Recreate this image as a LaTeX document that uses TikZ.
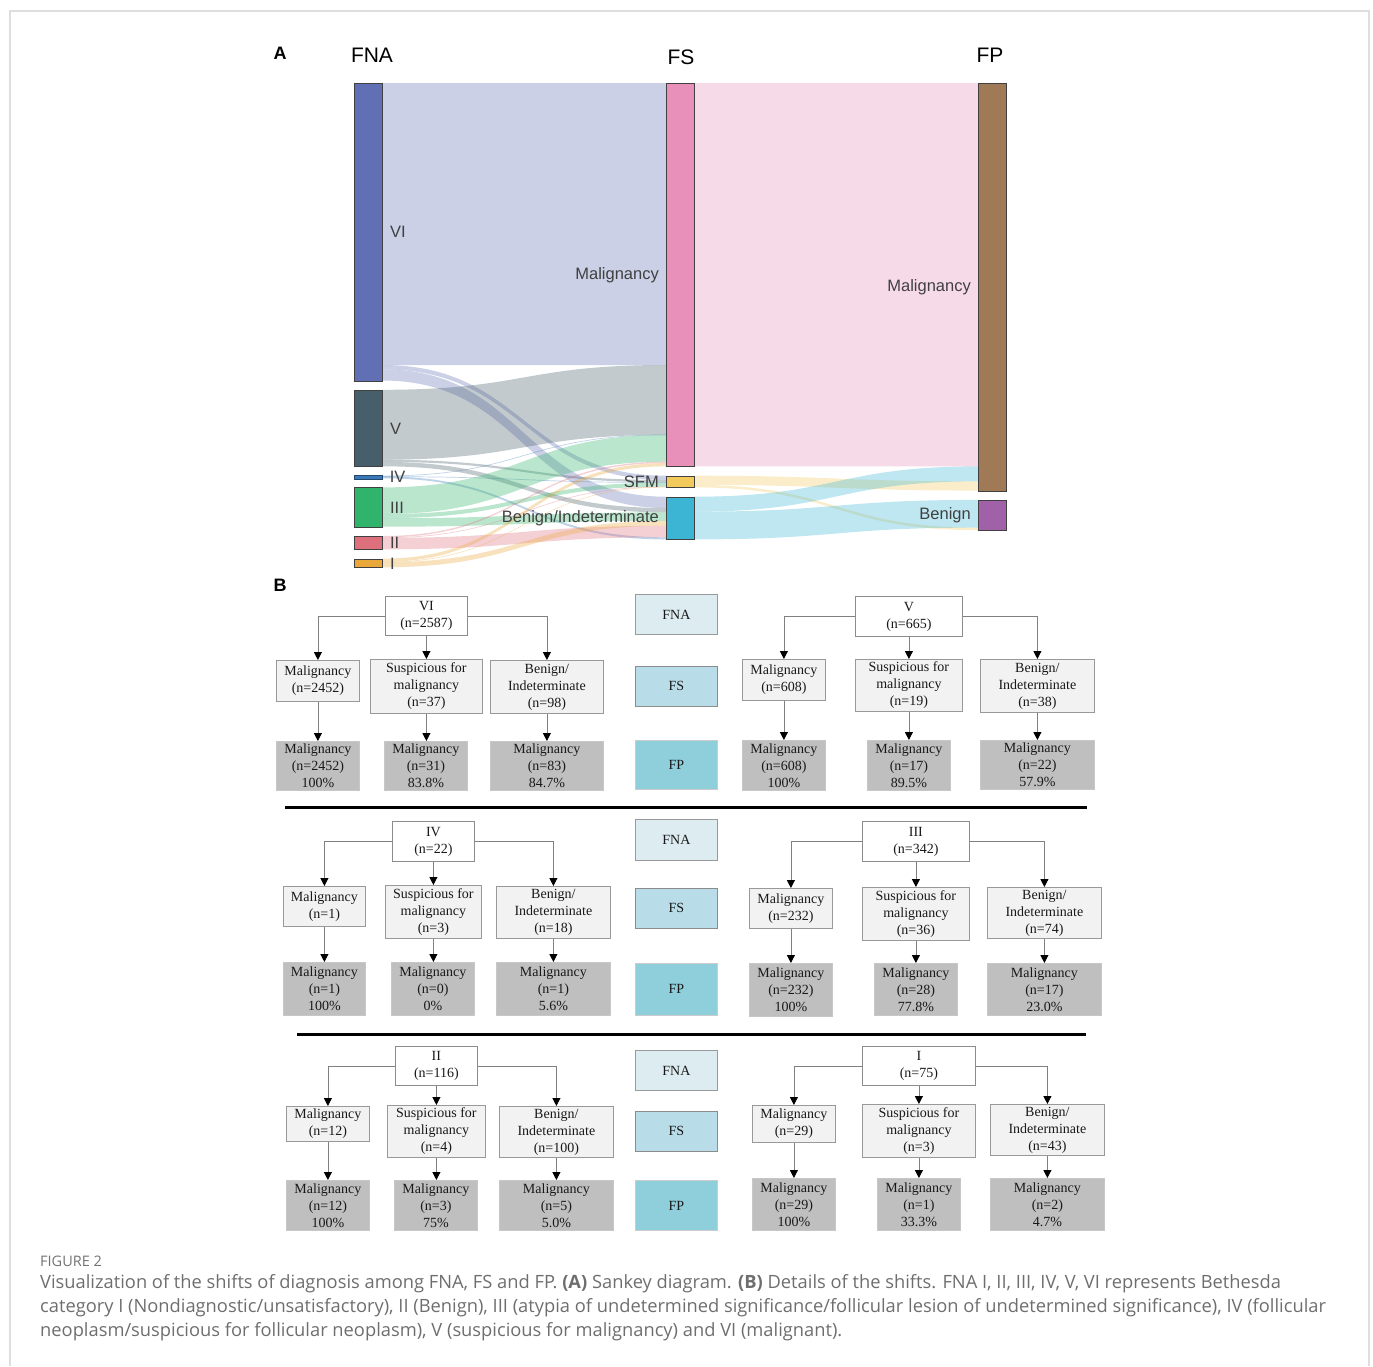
\documentclass[tikz,border=0pt]{standalone}
\usepackage{fontspec}
\setmainfont{Liberation Serif}
\newfontfamily\arialf{Liberation Sans}
\newfontfamily\capf{Open Sans}
\usetikzlibrary{arrows.meta}
\definecolor{cVI}{HTML}{6170B4}
\definecolor{cV}{HTML}{475E6B}
\definecolor{cIV}{HTML}{3A78B8}
\definecolor{cIII}{HTML}{30B36A}
\definecolor{cII}{HTML}{DE707E}
\definecolor{cI}{HTML}{EBA83A}
\definecolor{cFM}{HTML}{E890BA}
\definecolor{cFS}{HTML}{F2C95B}
\definecolor{cFB}{HTML}{3CB5D5}
\definecolor{cPM}{HTML}{A07956}
\definecolor{cPB}{HTML}{A061A8}
\definecolor{lblue1}{HTML}{DCECF1}
\definecolor{lblue2}{HTML}{B9DDE8}
\definecolor{lblue3}{HTML}{8FCFDC}
\definecolor{fsgray}{HTML}{F2F2F2}
\definecolor{fpgray}{HTML}{BFBFBF}
\definecolor{capgray}{HTML}{6E6E6E}
\newcommand{\sflow}[7]{\fill[#1, fill opacity=0.33] (#2,#3) .. controls ({(#2+#5)/2},#3) and ({(#2+#5)/2},#6) .. (#5,#6) -- (#5,#7) .. controls ({(#2+#5)/2},#7) and ({(#2+#5)/2},#4) .. (#2,#4) -- cycle;}
\newcommand{\snode}[6]{\node[sk, fill=#2, minimum width={(#5-#3)*1pt}, minimum height={(#6-#4)*1pt}] (#1) at (#3,#4) {};}
\newcommand{\bx}[7]{\node[#2, minimum width={(#5-#3)*1pt}, minimum height={(#6-#4)*1pt}] (#1) at (#3,#4) {#7};}
\newcommand{\conns}[1]{%
\draw[conn] (#1T.west) -| (#1M.north);
\draw[conn] (#1T.south) -- (#1T.south |- #1S.north);
\draw[conn] (#1T.east) -| (#1B.north);
\draw[conn] (#1M.south) -- (#1M.south |- #1FM.north);
\draw[conn] (#1S.south) -- (#1S.south |- #1FS.north);
\draw[conn] (#1B.south) -- (#1B.south |- #1FB.north);}
\tikzset{
 sk/.style={draw=black!75, line width=0.9pt, inner sep=0pt, anchor=north west},
 sklab/.style={font=\arialf\fontsize{16.5}{18}\selectfont, text=black!75, inner sep=0pt},
 coltitle/.style={font=\arialf\fontsize{21}{24}\selectfont, text=black, inner sep=0pt},
 panel/.style={font=\arialf\bfseries\fontsize{18}{20}\selectfont, text=black, inner sep=0pt},
 bbase/.style={anchor=north west, inner sep=0pt, align=center, font=\fontsize{14}{17}\selectfont, text=black!90, line width=0.8pt},
 topbox/.style={bbase, draw=black!45, fill=white},
 fsbox/.style={bbase, draw=black!40, fill=fsgray},
 fpbox/.style={bbase, draw=black!22, fill=fpgray},
 keyA/.style={bbase, draw=black!40, fill=lblue1},
 keyB/.style={bbase, draw=black!45, fill=lblue2},
 keyC/.style={bbase, draw=black!20, fill=lblue3},
 conn/.style={draw=black!50, line width=0.8pt, -{Triangle[width=8pt,length=8pt,color=black]}},
 sepline/.style={line width=3pt, black},
 captext/.style={anchor=west, inner sep=0pt, font=\capf\fontsize{18.3}{20}\selectfont, text=capgray},
}
\begin{document}
\begin{tikzpicture}[x=1pt,y=-1pt]
\useasboundingbox (0,0) rectangle (1373,1366);
\draw[draw=black!13, line width=1.5pt] (10,1366) -- (10,11) -- (1369,11) -- (1369,1366);

% ---------- Panel A: Sankey ----------
\node[panel] (lblA) at (280,53) {A};
\node[coltitle] (tFNA) at (372,55) {FNA};
\node[coltitle] (tFS) at (681,57) {FS};
\node[coltitle] (tFP) at (990,55) {FP};

% FNA -> FS flows
\sflow{cVI}{382}{83}{365.0}{666}{83}{365.0}
\sflow{cVI}{382}{365.0}{369.3}{666}{475.7}{480.0}
\sflow{cVI}{382}{369.3}{380.5}{666}{496.7}{508.0}
\sflow{cV}{382}{389.8}{459.7}{666}{365.0}{434.9}
\sflow{cV}{382}{459.7}{461.9}{666}{480.0}{482.2}
\sflow{cV}{382}{461.9}{466.3}{666}{508.0}{512.4}
\sflow{cIV}{382}{475.6}{476.3}{666}{434.6}{435.3}
\sflow{cIV}{382}{476.3}{477.0}{666}{482.2}{482.9}
\sflow{cIV}{382}{476.4}{478.3}{666}{537.3}{539.4}
\sflow{cIII}{382}{487.4}{514.1}{666}{435.0}{461.7}
\sflow{cIII}{382}{514.1}{518.2}{666}{482.5}{486.6}
\sflow{cIII}{382}{518.2}{526.7}{666}{512.4}{520.9}
\sflow{cII}{382}{536.0}{537.4}{666}{461.7}{463.1}
\sflow{cII}{382}{537.4}{538.1}{666}{486.5}{487.2}
\sflow{cII}{382}{537.9}{549.3}{666}{525.8}{537.3}
\sflow{cI}{382}{558.6}{561.9}{666}{463.1}{466.4}
\sflow{cI}{382}{561.9}{562.6}{666}{486.8}{487.4}
\sflow{cI}{382}{562.3}{567.3}{666}{520.9}{525.8}
% FS -> FP flows
\sflow{cFM}{694}{83}{466.4}{978}{83}{466.4}
\sflow{cFS}{694}{475.7}{484.9}{978}{481.35}{490.55}
\sflow{cFS}{694}{484.9}{487.4}{978}{527.6}{530.1}
\sflow{cFB}{694}{496.7}{511.65}{978}{466.4}{481.35}
\sflow{cFB}{694}{511.65}{539.4}{978}{499.9}{527.6}

% Sankey nodes
\snode{nVI}{cVI}{354}{83}{382}{380.5}
\snode{nV}{cV}{354}{389.8}{382}{466.3}
\node[sk, draw=cIV!60!black, line width=0.6pt, fill=cIV, minimum width=28pt, minimum height=3.2pt] (nIV) at (354,475.3) {};
\snode{nIII}{cIII}{354}{487.4}{382}{526.7}
\snode{nII}{cII}{354}{536.0}{382}{549.3}
\snode{nI}{cI}{354}{558.6}{382}{567.3}
\snode{sM}{cFM}{666}{83}{694}{466.4}
\snode{sS}{cFS}{666}{475.7}{694}{487.4}
\snode{sB}{cFB}{666}{496.7}{694}{539.4}
\snode{pM}{cPM}{978}{83}{1006}{490.6}
\snode{pB}{cPB}{978}{499.9}{1006}{530.1}

% Sankey labels
\node[sklab, anchor=west] (lVI) at ([xshift=7pt]nVI.east) {VI};
\node[sklab, anchor=west] (lV) at ([xshift=7pt]nV.east) {V};
\node[sklab, anchor=west] (lIV) at ([xshift=7pt]nIV.east) {IV};
\node[sklab, anchor=west] (lIII) at ([xshift=7pt]nIII.east) {III};
\node[sklab, anchor=west] (lII) at ([xshift=7pt]nII.east) {II};
\node[sklab, anchor=west] (lI) at ([xshift=7pt]nI.east) {I};
\node[sklab, anchor=east] (lsM) at ([xshift=-7pt]sM.west) {Malignancy};
\node[sklab, anchor=east] (lsS) at ([xshift=-7pt]sS.west) {SFM};
\node[sklab, anchor=east] (lsB) at ([xshift=-7pt]sB.west) {Benign/Indeterminate};
\node[sklab, anchor=east] (lpM) at ([xshift=-7pt]pM.west) {Malignancy};
\node[sklab, anchor=east] (lpB) at ([xshift=-7pt]pB.west) {Benign};

% ---------- Panel B ----------
\node[panel] (lblB) at (280,585) {B};

% key boxes
\bx{k1a}{keyA}{635}{594}{717}{634}{FNA}
\bx{k1b}{keyB}{635}{666}{717}{706}{FS}
\bx{k1c}{keyC}{635}{740}{717}{789}{FP}
\bx{k2a}{keyA}{635}{819}{717}{860}{FNA}
\bx{k2b}{keyB}{635}{888}{717}{928}{FS}
\bx{k2c}{keyC}{635}{963}{717}{1015}{FP}
\bx{k3a}{keyA}{635}{1050}{717}{1090}{FNA}
\bx{k3b}{keyB}{635}{1111}{717}{1151}{FS}
\bx{k3c}{keyC}{635}{1180}{717}{1230}{FP}

% Block VI
\bx{aT}{topbox}{385}{596}{467}{635}{VI\\(n=2587)}
\bx{aM}{fsbox}{276}{660}{359}{701}{Malignancy\\(n=2452)}
\bx{aS}{fsbox}{370}{659}{482}{713}{Suspicious for\\malignancy\\(n=37)}
\bx{aB}{fsbox}{490}{660}{603}{713}{Benign/\\Indeterminate\\(n=98)}
\bx{aFM}{fpbox}{276}{741}{359}{790}{Malignancy\\(n=2452)\\100\%}
\bx{aFS}{fpbox}{384}{741}{467}{790}{Malignancy\\(n=31)\\83.8\%}
\bx{aFB}{fpbox}{490}{741}{603}{790}{Malignancy\\(n=83)\\84.7\%}
\conns{a}

% Block V
\bx{bT}{topbox}{855}{596}{962}{636}{V\\(n=665)}
\bx{bM}{fsbox}{742}{659}{825}{700}{Malignancy\\(n=608)}
\bx{bS}{fsbox}{855}{659}{962}{711}{Suspicious for\\malignancy\\(n=19)}
\bx{bB}{fsbox}{980}{659}{1094}{712}{Benign/\\Indeterminate\\(n=38)}
\bx{bFM}{fpbox}{742}{740}{825}{790}{Malignancy\\(n=608)\\100\%}
\bx{bFS}{fpbox}{867}{740}{950}{790}{Malignancy\\(n=17)\\89.5\%}
\bx{bFB}{fpbox}{980}{740}{1094}{789}{Malignancy\\(n=22)\\57.9\%}
\conns{b}

\draw[sepline] (285,807) -- (1087,807);

% Block IV
\bx{cT}{topbox}{392}{821}{474}{861}{IV\\(n=22)}
\bx{cM}{fsbox}{283}{886}{365}{926}{Malignancy\\(n=1)}
\bx{cS}{fsbox}{385}{885}{481}{938}{Suspicious for\\malignancy\\(n=3)}
\bx{cB}{fsbox}{496}{886}{610}{938}{Benign/\\Indeterminate\\(n=18)}
\bx{cFM}{fpbox}{283}{962}{365}{1015}{Malignancy\\(n=1)\\100\%}
\bx{cFS}{fpbox}{391}{962}{474}{1015}{Malignancy\\(n=0)\\0\%}
\bx{cFB}{fpbox}{496}{962}{610}{1015}{Malignancy\\(n=1)\\5.6\%}
\conns{c}

% Block III
\bx{dT}{topbox}{862}{821}{969}{861}{III\\(n=342)}
\bx{dM}{fsbox}{749}{888}{832}{928}{Malignancy\\(n=232)}
\bx{dS}{fsbox}{862}{887}{969}{940}{Suspicious for\\malignancy\\(n=36)}
\bx{dB}{fsbox}{987}{887}{1101}{938}{Benign/\\Indeterminate\\(n=74)}
\bx{dFM}{fpbox}{749}{963}{832}{1016}{Malignancy\\(n=232)\\100\%}
\bx{dFS}{fpbox}{874}{963}{957}{1015}{Malignancy\\(n=28)\\77.8\%}
\bx{dFB}{fpbox}{987}{963}{1101}{1015}{Malignancy\\(n=17)\\23.0\%}
\conns{d}

\draw[sepline] (297,1034) -- (1086,1034);

% Block II
\bx{eT}{topbox}{395}{1046}{477}{1085}{II\\(n=116)}
\bx{eM}{fsbox}{286}{1106}{369}{1141}{Malignancy\\(n=12)}
\bx{eS}{fsbox}{387}{1105}{485}{1157}{Suspicious for\\malignancy\\(n=4)}
\bx{eB}{fsbox}{499}{1106}{613}{1157}{Benign/\\Indeterminate\\(n=100)}
\bx{eFM}{fpbox}{286}{1180}{369}{1230}{Malignancy\\(n=12)\\100\%}
\bx{eFS}{fpbox}{394}{1180}{477}{1230}{Malignancy\\(n=3)\\75\%}
\bx{eFB}{fpbox}{499}{1180}{613}{1230}{Malignancy\\(n=5)\\5.0\%}
\conns{e}

% Block I
\bx{fT}{topbox}{862}{1046}{975}{1085}{I\\(n=75)}
\bx{fM}{fsbox}{752}{1105}{835}{1142}{Malignancy\\(n=29)}
\bx{fS}{fsbox}{862}{1104}{975}{1157}{Suspicious for\\malignancy\\(n=3)}
\bx{fB}{fsbox}{990}{1104}{1104}{1155}{Benign/\\Indeterminate\\(n=43)}
\bx{fFM}{fpbox}{752}{1178}{835}{1230}{Malignancy\\(n=29)\\100\%}
\bx{fFS}{fpbox}{877}{1178}{960}{1230}{Malignancy\\(n=1)\\33.3\%}
\bx{fFB}{fpbox}{990}{1178}{1104}{1230}{Malignancy\\(n=2)\\4.7\%}
\conns{f}

% ---------- Caption ----------
\node[anchor=west, inner sep=0pt, font=\capf\fontsize{14.5}{16}\selectfont, text=black!55] (figlbl) at (40,1261) {FIGURE 2};
\node[captext] (cap1) at (40,1284) {Visualization of the shifts of diagnosis among FNA, FS and FP. \textbf{(A)} Sankey diagram. \textbf{(B)} Details of the shifts. FNA I, II, III, IV, V, VI represents Bethesda};
\node[captext] (cap2) at (40,1308) {category I (Nondiagnostic/unsatisfactory), II (Benign), III (atypia of undetermined significance/follicular lesion of undetermined significance), IV (follicular};
\node[captext] (cap3) at (40,1332) {neoplasm/suspicious for follicular neoplasm), V (suspicious for malignancy) and VI (malignant).};
\end{tikzpicture}
\end{document}
